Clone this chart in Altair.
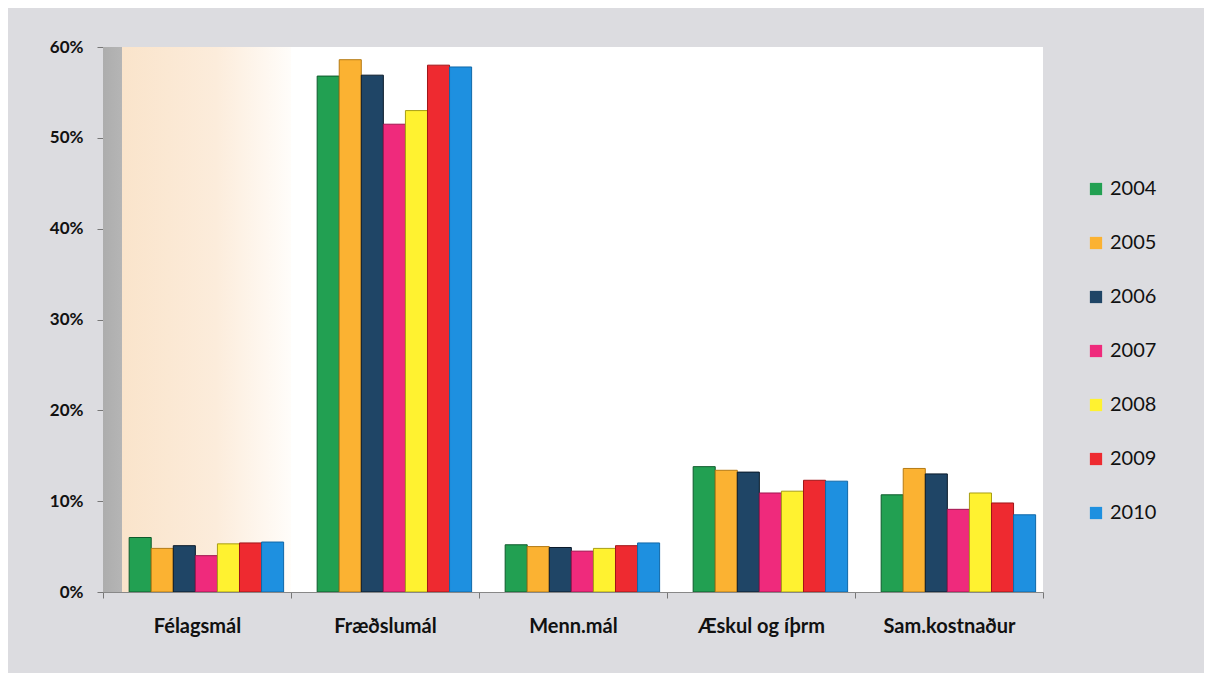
import altair as alt
import pandas as pd

categories = ["Félagsmál", "Fræðslumál", "Menn.mál", "Æskul  og íþrm", "Sam.kostnaður"]
years = ["2004", "2005", "2006", "2007", "2008", "2009", "2010"]
values = {
    "2004": [0.060, 0.568, 0.052, 0.138, 0.107],
    "2005": [0.048, 0.586, 0.050, 0.134, 0.136],
    "2006": [0.051, 0.569, 0.049, 0.132, 0.130],
    "2007": [0.040, 0.515, 0.045, 0.109, 0.091],
    "2008": [0.053, 0.530, 0.048, 0.111, 0.109],
    "2009": [0.054, 0.580, 0.051, 0.123, 0.098],
    "2010": [0.055, 0.578, 0.054, 0.122, 0.085],
}
fills = ["#22a052", "#fbb232", "#1f4566", "#ef2a7c", "#fff230", "#ee2a30", "#1e90e0"]
strokes = ["#0e5a2c", "#b47a14", "#0a1a2a", "#a01650", "#a89e14", "#a01518", "#1068a8"]

rows = []
for y in years:
    for c, v in zip(categories, values[y]):
        rows.append({"cat": c, "year": y, "value": v})
df = pd.DataFrame(rows)
bg = pd.DataFrame({"cat": [categories[0]]})

W, H = 940, 545
xscale = alt.Scale(domain=categories, paddingInner=0, paddingOuter=0)

wall = alt.Chart(bg).mark_rect(
    color=alt.Gradient(
        gradient="linear",
        x1=0, x2=1, y1=0, y2=0,
        stops=[
            alt.GradientStop(color="#adadad", offset=0),
            alt.GradientStop(color="#b5b5b5", offset=0.1),
            alt.GradientStop(color="#fae4cb", offset=0.101),
            alt.GradientStop(color="#fcecdb", offset=0.6),
            alt.GradientStop(color="#fffdfa", offset=1),
        ],
    )
).encode(
    x=alt.X("cat:N", scale=xscale, sort=categories),
    y=alt.datum(0.6),
    y2=alt.datum(0),
)

bars = alt.Chart(df).mark_bar(strokeWidth=1).encode(
    x=alt.X("cat:N", scale=xscale, sort=categories, title=None,
            axis=alt.Axis(labelAngle=0, labelFontSize=20, labelFontWeight="bold",
                          labelFont="Lato", labelColor="#111", labelPadding=28,
                          labelAlign="center",
                          tickBand="extent", tickSize=6, tickColor="#777",
                          domainColor="#888")),
    xOffset=alt.XOffset("year:N", sort=years,
                        scale=alt.Scale(paddingInner=0, paddingOuter=0.76, align=0.78)),
    y=alt.Y("value:Q", scale=alt.Scale(domain=[0, 0.6]), title=None,
            axis=alt.Axis(format=".0%", values=[0, 0.1, 0.2, 0.3, 0.4, 0.5, 0.6],
                          labelFontSize=17, labelFontWeight="bold", labelFont="Lato",
                          labelColor="#111", labelPadding=14, tickSize=6,
                          tickColor="#777", domainColor="#888", grid=False)),
    color=alt.Color("year:N", sort=years, scale=alt.Scale(domain=years, range=fills),
                    title=None,
                    legend=alt.Legend(orient="none", legendX=983, legendY=132,
                                      symbolType="square", symbolSize=150,
                                      symbolStrokeWidth=0, labelFontSize=20,
                                      labelFont="Lato", labelColor="#111",
                                      rowPadding=34, labelOffset=4)),
    stroke=alt.Stroke("year:N", sort=years, scale=alt.Scale(domain=years, range=strokes),
                      legend=None),
)

chart = alt.layer(wall, bars).properties(
    width=W, height=H,
    background="#dcdce0",
    padding={"left": 95, "top": 39, "right": 161, "bottom": 81},
    autosize=alt.AutoSizeParams(type="none"),
).configure_view(fill="white", stroke=None)

chart.save("out.html", embed_options={"renderer": "svg", "actions": False})
